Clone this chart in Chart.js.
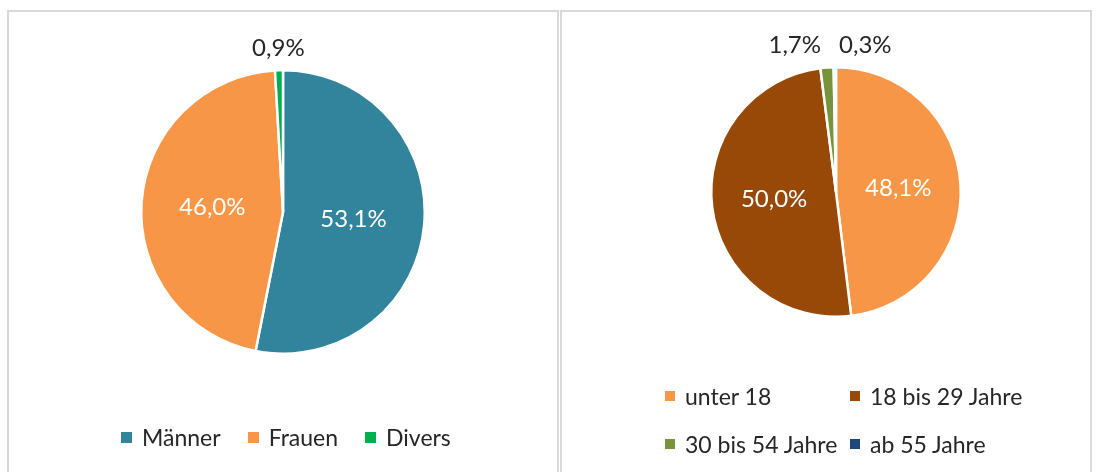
<!DOCTYPE html>
<html lang="de">
<head>
<meta charset="utf-8">
<title>Geschlecht und Alter</title>
<script src="https://cdn.jsdelivr.net/npm/chart.js@4.4.0/dist/chart.umd.min.js"></script>
<style>
  body { margin: 0; background: #fff; font-family: Lato, "Open Sans", sans-serif; }
  .panel { position: absolute; top: 10px; height: 470px; border: 2px solid #d9d9d9; box-sizing: border-box; overflow: hidden; }
  #leftPanel { left: 7px; width: 552px; }
  #rightPanel { left: 560px; width: 532px; }
  .panel canvas { position: absolute; left: 0; top: 0; }
  .legend { position: absolute; font-size: 23px; line-height: 28px; color: #262626; }
  .legend .item { display: flex; align-items: center; white-space: nowrap; }
  .legend .box { flex: none; margin-right: 10px; }
  #leftLegend { left: 112px; top: 411px; display: flex; }
  #leftLegend .item { margin-right: 27px; }
  #leftLegend .box { width: 11px; height: 11px; }
  #rightLegend { left: 103px; top: 370px; display: grid; grid-template-columns: 185px auto; row-gap: 20px; }
  #rightLegend .box { width: 10px; height: 10px; }
</style>
</head>
<body>
<div class="panel" id="leftPanel">
  <canvas id="genderChart" width="548" height="460"></canvas>
  <div class="legend" id="leftLegend"></div>
</div>
<div class="panel" id="rightPanel">
  <canvas id="ageChart" width="528" height="460"></canvas>
  <div class="legend" id="rightLegend"></div>
</div>
<script>
// ===== Data =====
const genderLabels = ['Männer', 'Frauen', 'Divers'];
const genderValues = [53.1, 46.0, 0.9];
const genderColors = ['#31849b', '#f79646', '#00b050'];

const ageLabels = ['unter 18', '18 bis 29 Jahre', '30 bis 54 Jahre', 'ab 55 Jahre'];
const ageValues = [48.1, 50.0, 1.7, 0.3];
const ageColors = ['#f79646', '#984807', '#77933c', '#1f497d'];

const fmt = v => v.toFixed(1).replace('.', ',') + '%';

// ===== Slice labels: inside for big slices, above the pie for small ones =====
const pieLabels = {
  id: 'pieLabels',
  afterDatasetsDraw(chart, args, opts) {
    const ctx = chart.ctx;
    const meta = chart.getDatasetMeta(0);
    const values = chart.data.datasets[0].data;
    ctx.save();
    ctx.font = opts.font;
    ctx.textAlign = 'center';
    ctx.textBaseline = 'middle';
    const outside = [];
    meta.data.forEach((arc, i) => {
      const text = fmt(values[i]);
      if (values[i] >= 5) {
        const p = arc.tooltipPosition();
        ctx.fillStyle = '#ffffff';
        ctx.fillText(text, p.x, p.y);
      } else {
        const mid = (arc.startAngle + arc.endAngle) / 2;
        const d = arc.outerRadius + opts.offset;
        outside.push({ text, x: arc.x + Math.cos(mid) * d, y: arc.y + Math.sin(mid) * d, w: ctx.measureText(text).width });
      }
    });
    // push neighbouring small labels apart so they don't overlap
    outside.sort((a, b) => a.x - b.x);
    for (let k = 1; k < outside.length; k++) {
      const a = outside[k - 1], b = outside[k];
      const need = (a.w + b.w) / 2 + opts.gap;
      if (b.x - a.x < need) {
        const push = (need - (b.x - a.x)) / 2;
        a.x -= push;
        b.x += push;
      }
    }
    ctx.fillStyle = '#262626';
    outside.forEach(l => ctx.fillText(l.text, l.x, l.y));
    ctx.restore();
  }
};

function makePie(id, labels, values, colors, padding) {
  return new Chart(document.getElementById(id), {
    type: 'pie',
    data: {
      labels: labels,
      datasets: [{
        data: values,
        backgroundColor: colors,
        borderColor: '#ffffff',
        borderWidth: 2.5
      }]
    },
    options: {
      responsive: false,
      animation: false,
      layout: { padding: padding },
      plugins: {
        legend: { display: false },
        tooltip: { enabled: false },
        pieLabels: { font: '24px Lato, "Open Sans", sans-serif', offset: 22, gap: 18 }
      }
    },
    plugins: [pieLabels]
  });
}

function makeLegend(id, labels, colors) {
  const box = document.getElementById(id);
  labels.forEach((name, i) => {
    const item = document.createElement('div');
    item.className = 'item';
    const sw = document.createElement('span');
    sw.className = 'box';
    sw.style.background = colors[i];
    const txt = document.createElement('span');
    txt.textContent = name;
    item.appendChild(sw);
    item.appendChild(txt);
    box.appendChild(item);
  });
}

makePie('genderChart', genderLabels, genderValues, genderColors, { left: 131, right: 131, top: 57, bottom: 117 });
makePie('ageChart', ageLabels, ageValues, ageColors, { left: 148, right: 128, top: 54, bottom: 154 });
makeLegend('leftLegend', genderLabels, genderColors);
makeLegend('rightLegend', ageLabels, ageColors);
</script>
</body>
</html>
